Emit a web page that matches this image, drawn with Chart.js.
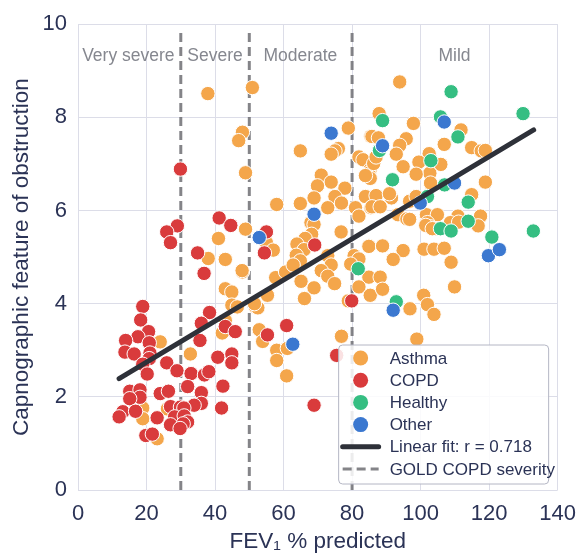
<!DOCTYPE html>
<html>
<head>
<meta charset="utf-8">
<script src="https://cdn.jsdelivr.net/npm/chart.js@4.4.0/dist/chart.umd.min.js"></script>
<style>
  html, body { margin: 0; padding: 0; background: #ffffff; }
</style>
</head>
<body>
<canvas id="chart" width="587" height="555"></canvas>
<script>
// FEV1 % predicted (x) vs capnographic feature of obstruction (y)
const asthma = [
    [24.0,3.18],[32.8,2.92],[18.9,1.76],[26.1,1.74],[18.9,1.53],[23.1,1.10],
    [43.0,4.32],[44.9,4.25],[44.9,3.97],[46.5,3.93],[43.0,3.64],[42.1,3.37],[48.0,4.68],
    [41.0,5.40],[38.0,4.97],[43.0,4.95],[47.9,4.71],[48.9,5.60],[37.9,8.51],[50.9,8.64],
    [48.0,7.68],[46.9,7.50],[48.9,6.81],[58.0,6.13],
    [55.0,5.31],[57.0,5.15],[57.7,4.56],[60.6,4.68],[63.1,4.82],
    [51.8,3.93],[52.5,3.91],[51.5,4.00],[55.3,4.18],[52.9,3.44],[53.9,3.19],[58.0,3.00],
    [61.1,3.04],[58.0,2.78],[60.9,2.45],
    [78.9,7.77],[85.5,7.59],[64.9,7.28],[76.0,7.33],[75.0,7.28],[73.9,7.21],[82.0,7.15],
    [83.2,7.09],[85.3,6.88],[84.9,6.80],[85.3,6.69],[83.9,6.75],[86.3,7.01],[71.0,6.76],
    [73.9,6.61],[69.9,6.53],[77.9,6.48],[75.0,6.30],[68.9,6.27],[76.9,6.16],[83.9,6.30],
    [64.9,6.15],[72.9,6.06],[81.0,6.06],[85.5,6.06],
    [68.0,5.74],[68.9,5.70],[68.2,5.49],[76.8,5.54],[66.3,5.40],[63.9,5.28],[66.0,5.16],
    [63.7,5.04],[64.9,4.92],[62.8,4.83],[72.9,5.03],[73.9,4.83],[71.0,4.71],[72.9,4.59],
    [74.9,4.43],[65.1,4.48],[68.9,4.34],[66.1,4.11],
    [80.6,5.03],[82.0,4.96],[79.6,4.85],[84.9,5.24],[84.9,4.57],[82.0,4.36],[78.9,4.06],
    [85.3,4.18],[76.9,3.30],[82.0,5.88],
    [93.9,8.76],[87.9,8.08],[97.9,7.87],[85.8,7.59],[87.7,7.56],[95.8,7.54],[111.8,7.73],
    [93.9,7.40],[106.9,7.42],[114.9,7.35],[117.7,7.28],[118.9,7.29],[102.5,7.22],[92.9,7.21],
    [87.0,7.15],[99.5,7.04],[105.9,6.99],[94.9,6.94],[102.7,6.80],[98.7,6.78],[102.9,6.59],
    [118.9,6.61],[114.9,6.34],[87.0,6.32],[91.5,6.27],[90.9,6.36],[96.8,6.20],[98.7,6.30],
    [85.8,6.08],[88.2,6.08],[93.4,5.91],[96.0,5.82],[96.8,5.81],[101.7,5.91],[104.9,5.91],
    [102.0,5.74],[102.9,5.65],[104.4,5.61],[101.5,5.68],[103.4,5.61],[110.9,5.88],[117.5,5.88],
    [116.8,5.67],[108.7,5.74],[111.1,5.75],
    [84.9,5.23],[88.9,5.24],[94.9,5.14],[101.0,5.17],[103.9,5.17],[106.9,5.19],[92.0,4.95],
    [108.9,4.89],[88.2,4.57],[88.9,4.31],[109.9,4.36],[96.9,3.89],[100.9,4.18],[102.0,3.98],
    [103.9,3.77],[98.9,3.24]
];

const copd = [
    [41.2,5.84],[44.6,5.68],[29.0,5.67],[25.9,5.54],[27.0,5.31],[34.9,5.09],[36.8,4.65],[29.9,6.89],
    [55.0,5.54],[54.4,5.09],[69.1,5.26],[79.9,4.06],[75.5,2.89],[68.9,1.82],[60.9,3.53],[55.3,3.33],
    [18.9,3.94],[38.4,3.81],[18.3,3.65],[36.0,3.58],[43.0,3.51],[45.9,3.40],[20.6,3.40],[17.5,3.29],
    [13.9,3.21],[20.8,3.16],[35.6,3.21],[13.7,2.96],[16.4,2.92],[21.0,2.94],[20.8,2.82],[18.9,2.70],
    [25.9,2.73],[40.8,2.85],[44.9,2.92],[44.9,2.73],[20.2,2.49],[28.9,2.56],[33.0,2.50],[36.9,2.47],
    [38.2,2.54],[32.0,2.22],[42.3,2.23],[15.1,2.12],[18.1,2.15],[18.1,1.99],[15.1,1.96],[24.0,2.07],
    [26.4,2.12],[36.0,2.09],[36.0,1.86],[33.9,1.82],[27.0,1.79],[29.9,1.78],[30.9,1.76],[41.9,1.76],
    [13.1,1.68],[16.8,1.69],[12.0,1.57],[28.2,1.57],[31.0,1.59],[23.1,1.55],[32.0,1.46],[30.7,1.42],
    [27.0,1.40],[29.8,1.32],[19.8,1.17],[21.7,1.20]
];

const healthy = [
    [108.9,8.55],[129.9,8.08],[88.9,7.93],[105.8,8.01],[110.9,7.58],[88.0,7.29],[103.0,7.07],
    [91.8,6.66],[107.0,6.55],[113.9,6.18],[102.0,6.30],[105.8,5.61],[108.9,5.56],[113.9,5.77],
    [120.8,5.43],[132.9,5.56],[81.8,4.75],[92.9,4.04]
];

const other = [
    [73.9,7.66],[106.9,7.90],[88.9,7.39],[109.9,6.59],[99.9,6.16],[119.8,5.03],[123.0,5.16],
    [68.9,5.92],[52.9,5.42],[62.7,3.13],[92.0,3.86]
];

// Linear fit, r = 0.718
const fitLine = [[12, 2.39], [133, 7.73]];
const fitLabel = "Linear fit: r = 0.718";

// GOLD COPD severity cut-offs
const goldCuts = [30, 50, 80];
const goldTop = 9.9;
const severityLabels = ["Very severe", "Severe", "Moderate", "Mild"];
const severityLabelX = [14.7, 40, 64.9, 109.9];
const severityLabelY = 9.31;

const groupNames = ["Asthma", "COPD", "Healthy", "Other"];
const groupColors = ["#f4a64b", "#d93b3c", "#35be82", "#3b78d0"];

const navy = "#2b3356";
const fontFamily = "'Liberation Sans', Arial, sans-serif";

const toXY = (arr) => arr.map(([x, y]) => ({ x, y }));

function scatterSet(label, data, color, order) {
    return {
        type: "scatter",
        label: label,
        data: toXY(data),
        backgroundColor: color,
        borderColor: "#ffffff",
        borderWidth: 1,
        pointRadius: 7.2,
        pointHoverRadius: 7.2,
        order: order,
    };
}

const datasets = [
    scatterSet(groupNames[0], asthma, groupColors[0], 4),
    scatterSet(groupNames[1], copd, groupColors[1], 3),
    scatterSet(groupNames[2], healthy, groupColors[2], 2),
    scatterSet(groupNames[3], other, groupColors[3], 1),
    {
        type: "line",
        label: fitLabel,
        data: toXY(fitLine),
        borderColor: "#2e3139",
        borderWidth: 5,
        pointRadius: 0,
        borderCapStyle: "round",
        order: 0,
    },
];

goldCuts.forEach((cut) => {
    datasets.push({
        type: "line",
        label: "GOLD COPD severity",
        data: [{ x: cut, y: 0 }, { x: cut, y: goldTop }],
        borderColor: "rgba(110,110,115,0.85)",
        borderWidth: 3,
        borderDash: [9, 5],
        pointRadius: 0,
        order: 5,
    });
});

// region names + the legend box inside the plot
const overlayPlugin = {
    id: "overlay",
    afterDraw(chart) {
        const ctx = chart.ctx;
        const xs = chart.scales.x;
        const ys = chart.scales.y;
        const area = chart.chartArea;

        ctx.save();
        ctx.font = "17.5px " + fontFamily;
        ctx.fillStyle = "#85878f";
        ctx.textAlign = "center";
        ctx.textBaseline = "middle";
        severityLabels.forEach((txt, i) => {
            ctx.fillText(txt, xs.getPixelForValue(severityLabelX[i]), ys.getPixelForValue(severityLabelY));
        });

        const bw = 210, bh = 139;
        const bx = area.right - 219, by = area.bottom - 145;
        ctx.beginPath();
        ctx.roundRect(bx, by, bw, bh, 4);
        ctx.fillStyle = "rgba(255,255,255,0.85)";
        ctx.fill();
        ctx.strokeStyle = "#b4b6c4";
        ctx.lineWidth = 1;
        ctx.stroke();

        const rowH = 22.2;
        const markX = bx + 22;
        const textX = bx + 51;
        ctx.textAlign = "left";
        ctx.font = "17px " + fontFamily;
        groupNames.forEach((name, i) => {
            const cy = by + 13 + i * rowH;
            ctx.beginPath();
            ctx.arc(markX, cy, 7.5, 0, Math.PI * 2);
            ctx.fillStyle = groupColors[i];
            ctx.fill();
            ctx.fillStyle = navy;
            ctx.fillText(name, textX, cy + 1);
        });

        let cy = by + 13 + 4 * rowH;
        ctx.beginPath();
        ctx.moveTo(bx + 4, cy);
        ctx.lineTo(bx + 40, cy);
        ctx.strokeStyle = "#2e3139";
        ctx.lineWidth = 5;
        ctx.lineCap = "round";
        ctx.stroke();
        ctx.fillStyle = navy;
        ctx.fillText(fitLabel, textX, cy + 1);

        cy += rowH;
        ctx.beginPath();
        ctx.setLineDash([9, 5]);
        ctx.lineCap = "butt";
        ctx.moveTo(bx + 4, cy);
        ctx.lineTo(bx + 40, cy);
        ctx.strokeStyle = "rgba(110,110,115,0.85)";
        ctx.lineWidth = 3;
        ctx.stroke();
        ctx.setLineDash([]);
        ctx.fillText("GOLD COPD severity", textX, cy + 1);
        ctx.restore();
    },
};

const ctx = document.getElementById("chart").getContext("2d");
new Chart(ctx, {
    type: "scatter",
    data: { datasets: datasets },
    options: {
        responsive: false,
        animation: false,
        layout: { padding: { left: 0, top: 19, right: 19, bottom: 0 } },
        plugins: {
            legend: { display: false },
            tooltip: { enabled: false },
        },
        scales: {
            x: {
                type: "linear",
                min: 0,
                max: 140,
                afterFit: (scale) => { scale.height = 65; },
                ticks: {
                    stepSize: 20,
                    color: navy,
                    padding: 11,
                    font: { size: 22, family: fontFamily },
                },
                grid: { color: "#dcdde8", drawTicks: false },
                border: { display: false },
                title: {
                    display: true,
                    text: "FEV₁ % predicted",
                    color: navy,
                    padding: { top: 0, bottom: 0 },
                    font: { size: 22.5, family: fontFamily },
                },
            },
            y: {
                type: "linear",
                min: 0,
                max: 10,
                afterFit: (scale) => { scale.width = 78; },
                ticks: {
                    stepSize: 2,
                    color: navy,
                    padding: 11,
                    font: { size: 22, family: fontFamily },
                },
                grid: { color: "#dcdde8", drawTicks: false },
                border: { display: false },
                title: {
                    display: true,
                    text: "Capnographic feature of obstruction",
                    color: navy,
                    padding: { top: 8, bottom: 0 },
                    font: { size: 22.5, family: fontFamily },
                },
            },
        },
    },
    plugins: [overlayPlugin],
});
</script>
</body>
</html>
